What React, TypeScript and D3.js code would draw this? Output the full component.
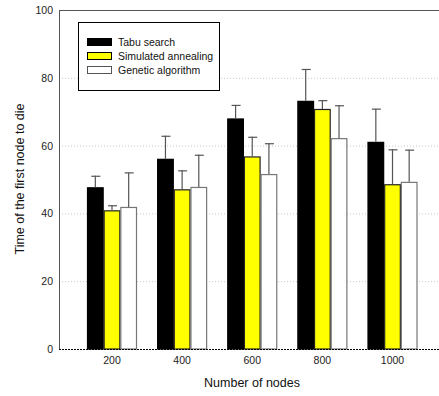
import { useRef, useEffect } from "react";
import * as d3 from "d3";

const categories = ["200", "400", "600", "800", "1000"];
const seriesNames = ["Tabu search", "Simulated annealing", "Genetic algorithm"];
const tabuMeans = [47.7, 56.1, 68.0, 73.2, 61.1];
const tabuErr = [51.1, 62.9, 72.0, 82.6, 70.9];
const annealMeans = [40.9, 47.1, 56.8, 70.8, 48.6];
const annealErr = [42.4, 52.7, 62.6, 73.4, 58.9];
const geneticMeans = [41.9, 47.8, 51.6, 62.2, 49.3];
const geneticErr = [52.1, 57.3, 60.7, 71.9, 58.8];
const yTicks = [0, 20, 40, 60, 80, 100];

const fills = ["#000000", "#ffff00", "#ffffff"];
const strokes = ["#000000", "#222222", "#777777"];

const width = 439;
const height = 396;
const left = 59;
const top = 10;
const bottom = 349;
const right = 439;

function App() {
  const svgRef = useRef<SVGSVGElement>(null);
  useEffect(() => {
    const svg = d3.select(svgRef.current);
    svg.selectAll("*").remove();
    const font = "'Liberation Sans', Arial, sans-serif";

    const means = [tabuMeans, annealMeans, geneticMeans];
    const errs = [tabuErr, annealErr, geneticErr];

    const y = d3.scaleLinear().domain([0, 100]).range([bottom, top]);
    const x = d3.scalePoint().domain(categories).range([112, 392.5]);
    const inner = d3.scaleBand().domain(seriesNames).range([-25, 25]).padding(0);

    // grid
    svg
      .append("g")
      .selectAll("line")
      .data(yTicks.filter((t) => t > 0 && t < 100))
      .enter()
      .append("line")
      .attr("x1", left)
      .attr("x2", right)
      .attr("y1", (d) => y(d) + 0.5)
      .attr("y2", (d) => y(d) + 0.5)
      .attr("stroke", "#c8c8c8")
      .attr("stroke-dasharray", "1,2");

    // frame
    svg
      .append("line")
      .attr("x1", left)
      .attr("x2", right)
      .attr("y1", top + 0.5)
      .attr("y2", top + 0.5)
      .attr("stroke", "#555");
    svg
      .append("line")
      .attr("x1", left + 0.5)
      .attr("x2", left + 0.5)
      .attr("y1", top)
      .attr("y2", bottom)
      .attr("stroke", "#555");

    // y tick labels
    svg
      .append("g")
      .selectAll("text")
      .data(yTicks)
      .enter()
      .append("text")
      .attr("x", 53)
      .attr("y", (d) => y(d) + 4)
      .attr("text-anchor", "end")
      .attr("font-family", font)
      .attr("font-size", 10.5)
      .attr("fill", "#222")
      .text((d) => d);

    // bars
    means.forEach((vals, s) => {
      const g = svg.append("g");
      g.selectAll("rect")
        .data(vals)
        .enter()
        .append("rect")
        .attr("x", (d, i) => (x(categories[i]) as number) + (inner(seriesNames[s]) as number) + 0.5)
        .attr("y", (d) => y(d) + 0.5)
        .attr("width", inner.bandwidth() - 1)
        .attr("height", (d) => bottom - y(d) - 0.5)
        .attr("fill", fills[s])
        .attr("stroke", strokes[s])
        .attr("stroke-width", 1.2);

      const cx = (i: number) =>
        (x(categories[i]) as number) + (inner(seriesNames[s]) as number) + inner.bandwidth() / 2;
      g.selectAll("line.err")
        .data(errs[s])
        .enter()
        .append("line")
        .attr("class", "err")
        .attr("x1", (d, i) => cx(i))
        .attr("x2", (d, i) => cx(i))
        .attr("y1", (d, i) => y(vals[i]))
        .attr("y2", (d) => y(d))
        .attr("stroke", "#555")
        .attr("stroke-width", 1.2);
      g.selectAll("line.cap")
        .data(errs[s])
        .enter()
        .append("line")
        .attr("class", "cap")
        .attr("x1", (d, i) => cx(i) - 4)
        .attr("x2", (d, i) => cx(i) + 5)
        .attr("y1", (d) => y(d) + 0.5)
        .attr("y2", (d) => y(d) + 0.5)
        .attr("stroke", "#555")
        .attr("stroke-width", 1.2);
    });

    // bottom dashed axis
    svg
      .append("line")
      .attr("x1", left)
      .attr("x2", right)
      .attr("y1", bottom + 0.5)
      .attr("y2", bottom + 0.5)
      .attr("stroke", "#000")
      .attr("stroke-dasharray", "2,1");

    // x tick labels
    svg
      .append("g")
      .selectAll("text")
      .data(categories)
      .enter()
      .append("text")
      .attr("x", (d) => x(d) as number)
      .attr("y", 364)
      .attr("text-anchor", "middle")
      .attr("font-family", font)
      .attr("font-size", 10.5)
      .attr("fill", "#222")
      .text((d) => d);

    // axis titles
    svg
      .append("text")
      .attr("x", 252)
      .attr("y", 387)
      .attr("text-anchor", "middle")
      .attr("font-family", font)
      .attr("font-size", 12.5)
      .attr("fill", "#111")
      .text("Number of nodes");
    svg
      .append("text")
      .attr("transform", `translate(24, 179) rotate(-90)`)
      .attr("text-anchor", "middle")
      .attr("font-family", font)
      .attr("font-size", 12.5)
      .attr("fill", "#111")
      .text("Time of the first node to die");

    // legend
    const legend = svg.append("g");
    legend
      .append("rect")
      .attr("x", 78.5)
      .attr("y", 22.5)
      .attr("width", 141)
      .attr("height", 68)
      .attr("fill", "#fff")
      .attr("stroke", "#000");
    seriesNames.forEach((name, s) => {
      const ly = 38.5 + s * 14;
      legend
        .append("rect")
        .attr("x", 87.5)
        .attr("y", ly)
        .attr("width", 24)
        .attr("height", 7)
        .attr("fill", fills[s])
        .attr("stroke", s === 2 ? "#555" : "#000");
      legend
        .append("text")
        .attr("x", 118)
        .attr("y", ly + 7.5)
        .attr("font-family", font)
        .attr("font-size", 10.5)
        .attr("fill", "#111")
        .text(name);
    });
  }, []);

  return (
    <svg
      ref={svgRef}
      width={width}
      height={height}
      style={{ position: "absolute", left: 0, top: 0, background: "#fff" }}
    />
  );
}

export default App;
